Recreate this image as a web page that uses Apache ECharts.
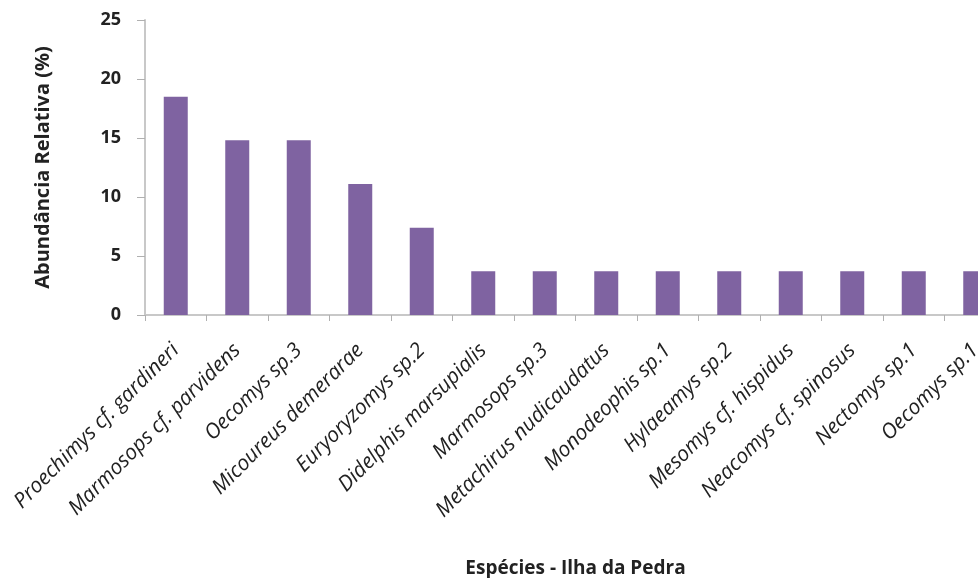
<!DOCTYPE html>
<html>
<head>
<meta charset="utf-8">
<script src="https://cdn.jsdelivr.net/npm/echarts@6/dist/echarts.min.js"></script>
<style>
  html, body { margin: 0; padding: 0; background: #ffffff; }
  #chart { width: 978px; height: 578px; }
</style>
</head>
<body>
<div id="chart"></div>
<script>
// Species sampled on Ilha da Pedra
var species = [
  'Proechimys cf. gardineri',
  'Marmosops cf. parvidens',
  'Oecomys sp.3',
  'Micoureus demerarae',
  'Euryoryzomys sp.2',
  'Didelphis marsupialis',
  'Marmosops sp.3',
  'Metachirus nudicaudatus',
  'Monodeophis sp.1',
  'Hylaeamys sp.2',
  'Mesomys cf. hispidus',
  'Neacomys cf. spinosus',
  'Nectomys sp.1',
  'Oecomys sp.1'
];

// Relative abundance (%) for each species
var abundance = [18.5, 14.8, 14.8, 11.1, 7.4, 3.7, 3.7, 3.7, 3.7, 3.7, 3.7, 3.7, 3.7, 3.7];

// Value-axis ticks
var yTicks = { min: 0, max: 25, interval: 5 };

var chart = echarts.init(document.getElementById('chart'), null, { renderer: 'canvas' });

var axisFont = '"Open Sans", "Liberation Sans", sans-serif';

chart.setOption({
  backgroundColor: '#ffffff',
  animation: false,
  // plot area runs past the right edge, so the last category is partly cut off
  grid: { left: 145, top: 20, width: 861, height: 295, containLabel: false, outerBoundsMode: 'none' },
  xAxis: {
    type: 'category',
    data: species,
    name: 'Espécies - Ilha da Pedra',
    nameLocation: 'middle',
    nameGap: 244,
    nameTextStyle: { fontFamily: axisFont, fontWeight: 'bold', fontSize: 19, color: '#222222' },
    axisLine: { lineStyle: { color: '#c8c8c8', width: 2 } },
    axisTick: { show: true, alignWithLabel: false, length: 6, lineStyle: { color: '#b0b0b0', width: 1 } },
    axisLabel: {
      interval: 0,
      rotate: 45,
      margin: 32,
      fontFamily: axisFont,
      fontStyle: 'italic',
      fontSize: 21,
      color: '#222222'
    }
  },
  yAxis: {
    type: 'value',
    min: yTicks.min,
    max: yTicks.max,
    interval: yTicks.interval,
    name: 'Abundância Relativa (%)',
    nameLocation: 'middle',
    nameGap: 92,
    nameTextStyle: { fontFamily: axisFont, fontWeight: 'bold', fontSize: 20, color: '#222222' },
    axisLine: { show: true, lineStyle: { color: '#c8c8c8', width: 2 } },
    axisTick: { show: true, length: 8, lineStyle: { color: '#b0b0b0', width: 1 } },
    splitLine: { show: false },
    axisLabel: {
      margin: 24,
      fontFamily: axisFont,
      fontWeight: 'bold',
      fontSize: 18,
      color: '#222222'
    }
  },
  series: [{
    type: 'bar',
    data: abundance,
    barWidth: 24,
    itemStyle: { color: '#7F63A1' }
  }]
});
</script>
</body>
</html>
